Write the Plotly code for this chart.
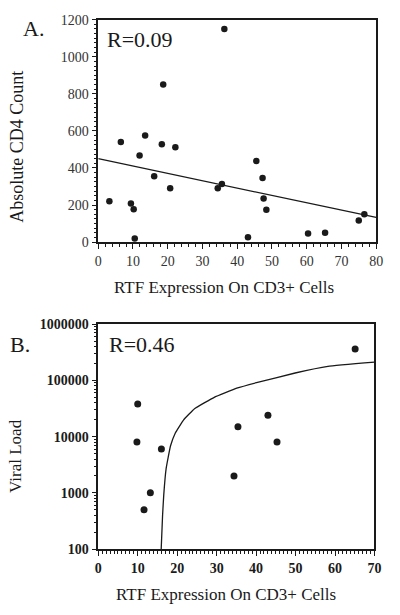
import plotly.graph_objects as go

W, H = 400, 615

# ---------- Panel A data ----------
a_rtf = [36.3, 18.7, 6.5, 13.5, 18.3, 22.2, 11.9, 3.2, 9.4, 10.2, 10.5, 16.1, 20.7,
         34.4, 35.6, 45.5, 47.3, 47.6, 48.4, 43.1, 60.4, 65.3, 75.0, 76.6]
a_cd4 = [1150, 850, 540, 575, 528, 512, 467, 221, 209, 177, 19, 356, 291,
         291, 314, 438, 346, 235, 174, 26, 47, 51, 117, 151]
a_fit_x = [0, 80]
a_fit_y = [450, 133]
a_label = "R=0.09"

# ---------- Panel B data ----------
b_rtf = [65.1, 10.0, 9.8, 16.0, 35.4, 43.0, 45.3, 13.2, 11.6, 34.4]
b_vl = [360000, 38000, 8000, 6000, 15000, 24000, 8000, 1000, 500, 2000]
b_fit_x = [15.95, 16.3, 16.6, 17.2, 18.3, 19.5, 21.6, 24.4, 29.4, 35.1, 40.1, 49.9, 58.2, 70.0]
b_fit_y = [100, 400, 920, 2700, 6800, 11500, 19700, 31300, 49900, 72400, 90800, 135000, 177000, 210000]
b_label = "R=0.46"
b_ticks = [100, 1000, 10000, 100000, 1000000]
b_ticktext = ["100", "1000", "10000", "100000", "1000000"]

x_title = "RTF Expression On CD3+ Cells"
a_y_title = "Absolute CD4 Count"
b_y_title = "Viral Load"

SERIF = "Liberation Serif"
INK = "#1a1a1a"


def px(x):
    return x / W


def py(y):
    return 1 - y / H


fig = go.Figure()
fig.add_trace(go.Scatter(x=a_rtf, y=a_cd4, mode="markers",
                         marker=dict(color=INK, size=6.5), xaxis="x", yaxis="y",
                         showlegend=False))
fig.add_trace(go.Scatter(x=a_fit_x, y=a_fit_y, mode="lines",
                         line=dict(color=INK, width=1.3), xaxis="x", yaxis="y",
                         showlegend=False))
fig.add_trace(go.Scatter(x=b_rtf, y=b_vl, mode="markers",
                         marker=dict(color=INK, size=7), xaxis="x2", yaxis="y2",
                         showlegend=False))
fig.add_trace(go.Scatter(x=b_fit_x, y=b_fit_y, mode="lines",
                         line=dict(color=INK, width=1.3, shape="spline", smoothing=0.3),
                         xaxis="x2", yaxis="y2", showlegend=False))

axis_common = dict(showgrid=False, zeroline=False, showline=True, linecolor=INK,
                   linewidth=1.5, mirror=True, ticks="outside", tickcolor=INK,
                   ticklen=5, tickwidth=1.2)


def minor(dt):
    return dict(dtick=dt, ticks="outside", ticklen=3, tickwidth=1, tickcolor=INK)


fig.update_layout(
    width=W, height=H, margin=dict(l=0, r=0, t=0, b=0),
    paper_bgcolor="white", plot_bgcolor="white",
    font=dict(family=SERIF, color=INK),
    xaxis=dict(domain=[px(97.7), px(382.7)], anchor="y", range=[0, 80],
               tickmode="linear", tick0=0, dtick=10,
               tickfont=dict(size=14, family=SERIF, color="#333"),
               minor=minor(2), **axis_common),
    yaxis=dict(domain=[py(241), py(13)], anchor="x", range=[0, 1200],
               tickmode="linear", tick0=0, dtick=200,
               tickfont=dict(size=14, family=SERIF, color="#333"),
               minor=minor(25), **axis_common),
    xaxis2=dict(domain=[px(97.7), px(381)], anchor="y2", range=[0, 70],
                tickmode="linear", tick0=0, dtick=10,
                tickfont=dict(size=14, family=SERIF, color=INK, weight="bold"),
                minor=minor(1), **axis_common),
    yaxis2=dict(domain=[py(555.7), py(325)], anchor="x2", type="log", range=[2, 6],
                tickvals=b_ticks, ticktext=b_ticktext,
                tickfont=dict(size=14, family=SERIF, color=INK, weight="bold"),
                minor=minor("D1"), **axis_common),
)

ann = [
    dict(text="A.", x=px(31), y=py(22), font=dict(size=22)),
    dict(text="B.", x=px(17.5), y=py(346), font=dict(size=22)),
    dict(text=a_label, x=px(105), y=py(33.5), xanchor="left", font=dict(size=22)),
    dict(text=b_label, x=px(107), y=py(346), xanchor="left", font=dict(size=22)),
    dict(text=x_title, x=px(226.7), y=py(287), font=dict(size=17)),
    dict(text=x_title, x=px(229), y=py(602), font=dict(size=17)),
    dict(text=a_y_title, x=px(13.5), y=py(143), textangle=-90, font=dict(size=18)),
    dict(text=b_y_title, x=px(13.5), y=py(460), textangle=-90, font=dict(size=17)),
]
for a in ann:
    a.setdefault("xanchor", "center")
    a["yanchor"] = "middle"
    a["xref"] = "paper"
    a["yref"] = "paper"
    a["showarrow"] = False
    a["font"] = dict(family=SERIF, color=INK, **a["font"])
fig.update_layout(annotations=ann)

fig.write_html("out.html", config={"displayModeBar": False},
               post_script="document.body.style.margin='0';document.body.style.padding='0';")
